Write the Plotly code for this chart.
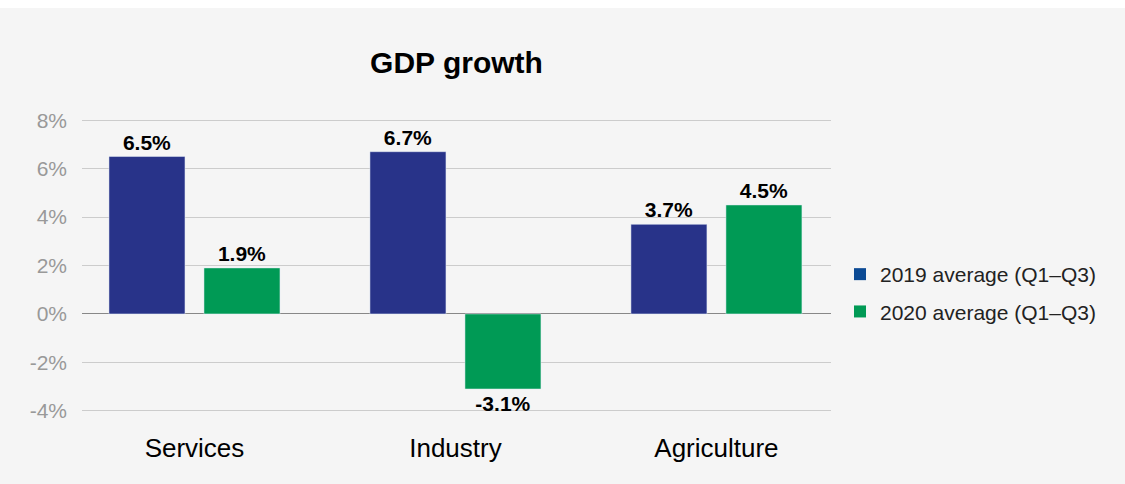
import plotly.graph_objects as go

categories = ["Services", "Industry", "Agriculture"]
series_2019 = [6.5, 6.7, 3.7]
series_2020 = [1.9, -3.1, 4.5]
series_names = ["2019 average (Q1–Q3)", "2020 average (Q1–Q3)"]
bar_colors = ["#283389", "#009a55"]
legend_colors = ["#0b4a94", "#009a55"]
y_ticks = [-4, -2, 0, 2, 4, 6, 8]
y_tick_labels = ["-4%", "-2%", "0%", "2%", "4%", "6%", "8%"]

FONT = "Liberation Sans, Arial, Helvetica, sans-serif"
W, H = 1125, 484
L, R, T, B = 82, 294, 119, 72
PW, PH = W - L - R, H - T - B

fig = go.Figure()
for name, vals, col in zip(series_names, [series_2019, series_2020], bar_colors):
    fig.add_trace(go.Bar(
        x=categories, y=vals, name=name, marker_color=col, showlegend=False,
        texttemplate="<b>%{y:.1f}%</b>", textposition="outside", cliponaxis=False,
        constraintext="none",
        textfont=dict(family=FONT, size=21, color="#000000"),
        hoverinfo="skip",
    ))
# legend-only entries (legend swatch colour differs slightly in reference)
for i, (name, col) in enumerate(zip(series_names, legend_colors)):
    fig.add_trace(go.Scatter(x=[None], y=[None], name=name, mode="markers",
                             marker=dict(color=col, symbol="square", size=12),
                             showlegend=True, legendgroup="g%d" % i))

fig.update_layout(
    width=W, height=H,
    margin=dict(l=L, r=R, t=T, b=B, pad=0),
    paper_bgcolor="#f5f5f5", plot_bgcolor="#f5f5f5",
    barmode="group", bargap=0.272, bargroupgap=0.2,
    font=dict(family=FONT, color="#000000"),
    title=dict(text="<b>GDP growth</b>", x=456.5 / W, xanchor="center",
               y=1 - 62 / H, yanchor="middle",
               font=dict(family=FONT, size=30, color="#000000")),
    showlegend=True,
    legend=dict(x=(840 - L) / PW, xanchor="left", y=(411 - 292) / PH, yanchor="middle",
                bgcolor="rgba(0,0,0,0)", borderwidth=0, tracegroupgap=7,
                font=dict(family=FONT, size=21, color="#222222")),
    xaxis=dict(range=[-0.431, 2.439], showgrid=False, zeroline=False, showline=False,
               ticks="", tickfont=dict(family=FONT, size=26, color="#000000"),
               ticklabelstandoff=18, fixedrange=True),
    yaxis=dict(range=[-4.05, 8.05], tickmode="array", tickvals=y_ticks, ticktext=y_tick_labels,
               showgrid=True, gridcolor="#cccccc", gridwidth=1, zeroline=True,
               zerolinecolor="#888888", zerolinewidth=1, showline=False, ticks="",
               tickfont=dict(family=FONT, size=21, color="#999999"),
               ticklabelstandoff=14, fixedrange=True),
    shapes=[dict(type="rect", xref="paper", yref="paper",
                 x0=-L / PW, x1=(W - L) / PW, y0=1 + (T - 8) / PH, y1=1 + T / PH,
                 fillcolor="#ffffff", line=dict(width=0), layer="above")],
)

fig.write_html("out.html")
